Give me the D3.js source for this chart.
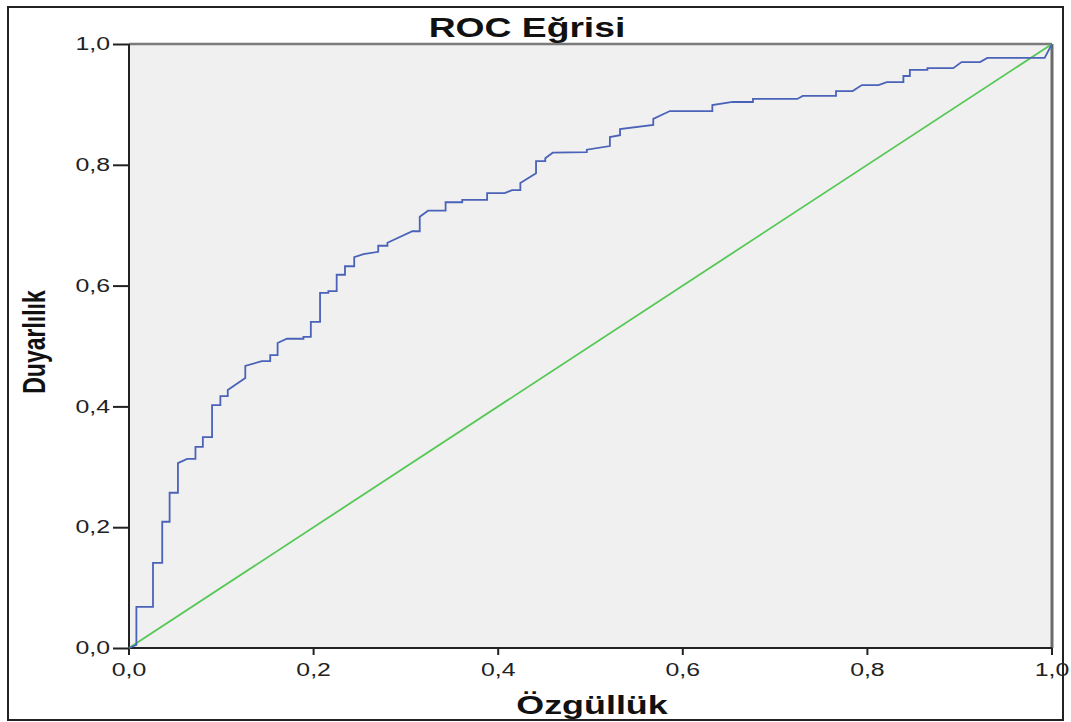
<!DOCTYPE html>
<html>
<head>
<meta charset="utf-8">
<script src="https://cdn.jsdelivr.net/npm/d3@7"></script>
<style>
  body { margin: 0; background: #fff; }
  text { font-family: "Liberation Sans", Arial, sans-serif; }
</style>
</head>
<body>
<script>
// ROC curve points (1 - specificity, sensitivity)
var oneMinusSpec = [0, 0.008, 0.008, 0.026, 0.026, 0.036, 0.036, 0.044, 0.044, 0.053,
  0.053, 0.063, 0.072, 0.072, 0.080, 0.080, 0.090, 0.090, 0.099, 0.099,
  0.107, 0.107, 0.126, 0.126, 0.144, 0.153, 0.153, 0.161, 0.161, 0.171,
  0.189, 0.189, 0.197, 0.197, 0.207, 0.207, 0.216, 0.216, 0.225, 0.225,
  0.234, 0.234, 0.244, 0.244, 0.254, 0.270, 0.270, 0.280, 0.280, 0.307,
  0.315, 0.315, 0.324, 0.343, 0.343, 0.361, 0.361, 0.388, 0.388, 0.407,
  0.415, 0.424, 0.424, 0.441, 0.441, 0.451, 0.451, 0.459, 0.496, 0.496,
  0.521, 0.521, 0.532, 0.532, 0.568, 0.568, 0.586, 0.632, 0.632, 0.654,
  0.676, 0.676, 0.724, 0.730, 0.766, 0.766, 0.784, 0.794, 0.812, 0.821,
  0.839, 0.839, 0.846, 0.846, 0.865, 0.865, 0.893, 0.902, 0.922, 0.930,
  0.992, 1];
var sensitivity = [0, 0.005, 0.068, 0.068, 0.141, 0.141, 0.209, 0.209, 0.257, 0.257,
  0.306, 0.313, 0.313, 0.333, 0.333, 0.349, 0.349, 0.402, 0.402, 0.417,
  0.417, 0.427, 0.447, 0.467, 0.475, 0.475, 0.485, 0.485, 0.505, 0.512,
  0.512, 0.515, 0.515, 0.540, 0.540, 0.588, 0.588, 0.591, 0.591, 0.618,
  0.618, 0.632, 0.632, 0.647, 0.652, 0.656, 0.666, 0.666, 0.671, 0.690,
  0.690, 0.714, 0.724, 0.724, 0.738, 0.738, 0.742, 0.742, 0.753, 0.753,
  0.758, 0.758, 0.770, 0.786, 0.806, 0.806, 0.811, 0.820, 0.821, 0.825,
  0.831, 0.846, 0.849, 0.859, 0.866, 0.876, 0.889, 0.889, 0.899, 0.904,
  0.904, 0.909, 0.909, 0.914, 0.914, 0.922, 0.922, 0.932, 0.932, 0.937,
  0.937, 0.947, 0.947, 0.957, 0.957, 0.960, 0.960, 0.970, 0.970, 0.977,
  0.977, 1];
// reference line
var refX = [0, 1], refY = [0, 1];
var xTicks = [0, 0.2, 0.4, 0.6, 0.8, 1.0];
var yTicks = [0, 0.2, 0.4, 0.6, 0.8, 1.0];

var W = 1071, H = 722;
var margin = {top: 44, right: 19, bottom: 74, left: 129},
    width = W - margin.left - margin.right,
    height = H - margin.top - margin.bottom;
var SX = 1.38; // text in the picture is stretched sideways

var svg = d3.select("body").append("svg")
    .attr("width", W).attr("height", H);

// outer frame
svg.append("rect")
    .attr("x", 8).attr("y", 7).attr("width", 1055).attr("height", 713)
    .attr("fill", "none").attr("stroke", "#222").attr("stroke-width", 2);

var g = svg.append("g")
    .attr("transform", "translate(" + margin.left + "," + margin.top + ")");

var x = d3.scaleLinear().domain([0, 1]).range([0, width]);
var y = d3.scaleLinear().domain([0, 1]).range([height, 0]);
var fmt = function(d) { return d3.format(".1f")(d).replace(".", ","); };

g.append("rect")
    .attr("width", width).attr("height", height)
    .attr("fill", "#f0f0f0");

// top and right border
g.append("line").attr("x1", 0).attr("x2", width).attr("y1", 0).attr("y2", 0)
    .attr("stroke", "#7a7a7a").attr("stroke-width", 2.5);
g.append("line").attr("x1", width).attr("x2", width).attr("y1", 0).attr("y2", height)
    .attr("stroke", "#6a6a6a").attr("stroke-width", 3);

var yAxis = g.append("g")
    .call(d3.axisLeft(y).tickValues(yTicks).tickSize(16).tickPadding(3).tickFormat(fmt));
var xAxis = g.append("g")
    .attr("transform", "translate(0," + height + ")")
    .call(d3.axisBottom(x).tickValues(xTicks).tickSize(7).tickPadding(8).tickFormat(fmt));

[yAxis, xAxis].forEach(function(a) {
  a.select(".domain").remove();
  a.selectAll("line").attr("stroke", "#222").attr("stroke-width", 2);
  a.selectAll("text").attr("font-size", 18).attr("fill", "#222")
      .attr("font-family", "Liberation Sans, Arial, sans-serif");
});
yAxis.selectAll("text")
    .attr("x", -19 / SX)
    .attr("transform", "scale(" + SX + ",1)");
xAxis.selectAll("text")
    .attr("transform", "scale(" + SX + ",1)");
xAxis.selectAll(".tick").each(function(d) {
  d3.select(this).attr("transform", "translate(" + x(d) + ",0)");
});

// left and bottom axis lines
g.append("line").attr("x1", 0).attr("x2", 0).attr("y1", 0).attr("y2", height + 1)
    .attr("stroke", "#222").attr("stroke-width", 2);
g.append("line").attr("x1", -1).attr("x2", width).attr("y1", height).attr("y2", height)
    .attr("stroke", "#222").attr("stroke-width", 2);

var line = d3.line()
    .x(function(d) { return x(d[0]); })
    .y(function(d) { return y(d[1]); });

g.append("path")
    .datum(d3.zip(refX, refY))
    .attr("d", line)
    .attr("fill", "none").attr("stroke", "#55c855").attr("stroke-width", 1.8);

g.append("path")
    .datum(d3.zip(oneMinusSpec, sensitivity))
    .attr("d", line)
    .attr("fill", "none").attr("stroke", "#4a62b8").attr("stroke-width", 1.8);

// titles
svg.append("text")
    .attr("transform", "translate(527,37) scale(" + SX + ",1)")
    .attr("text-anchor", "middle").attr("font-size", 27).attr("font-weight", "bold")
    .attr("fill", "#111")
    .text("ROC Eğrisi");

svg.append("text")
    .attr("transform", "translate(592,714) scale(" + SX + ",1)")
    .attr("text-anchor", "middle").attr("font-size", 26).attr("font-weight", "bold")
    .attr("fill", "#111")
    .text("Özgüllük");

svg.append("text")
    .attr("transform", "translate(45,342) scale(" + SX + ",1) rotate(-90)")
    .attr("text-anchor", "middle").attr("font-size", 23).attr("font-weight", "bold")
    .attr("fill", "#111")
    .text("Duyarlılık");
</script>
</body>
</html>
